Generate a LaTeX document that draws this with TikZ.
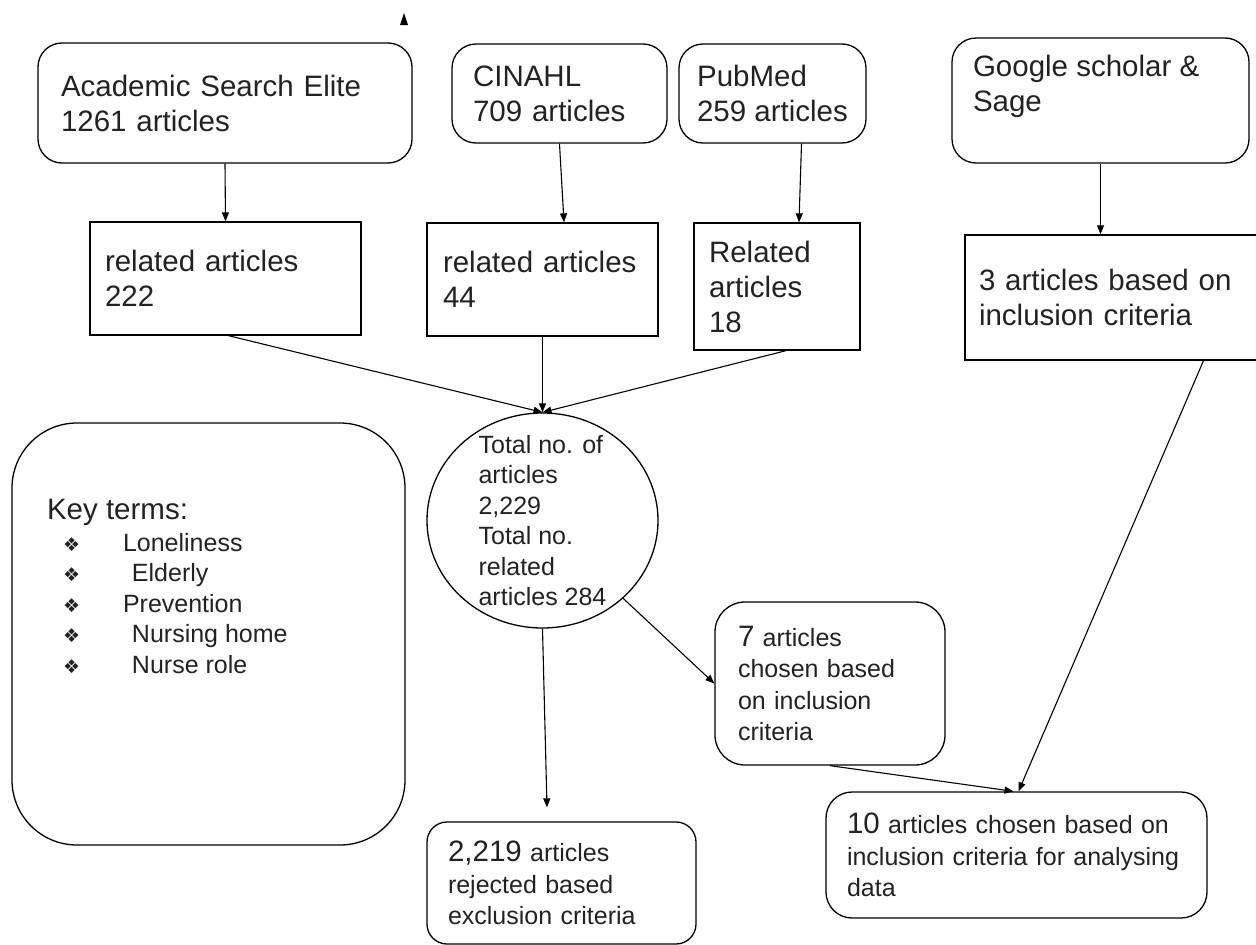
\documentclass[tikz,border=0pt]{standalone}
\usepackage{fontspec}
\setmainfont{Liberation Sans}
\newfontfamily\dejavu{DejaVu Sans}
\usetikzlibrary{arrows.meta,shapes.geometric}
\definecolor{inkgrey}{RGB}{34,34,34}

\begin{document}
\begin{tikzpicture}[x=1pt, y=-1pt,
  src/.style={draw, line width=1.3pt, rounded corners=24pt, align=left,
              inner ysep=0pt, text=inkgrey,
              font=\fontsize{29.5}{35}\selectfont},
  rel/.style={draw, line width=1.3pt, align=left, inner ysep=0pt,
              text=inkgrey, font=\fontsize{29.5}{35}\selectfont},
  res/.style={draw, line width=1.3pt, rounded corners=26pt, align=left,
              inner ysep=0pt, text=inkgrey,
              font=\fontsize{25}{31.5}\selectfont},
  keybox/.style={draw, line width=1.3pt, rounded corners=65pt,
                 inner xsep=35pt, inner ysep=76pt, text=inkgrey,
                 font=\fontsize{25}{30.5}\selectfont},
  totalnode/.style={draw, ellipse, line width=1.3pt, align=left,
                    inner xsep=0pt, inner ysep=-15pt,
                    minimum width=231pt, minimum height=215pt,
                    text=inkgrey, font=\fontsize{25}{30.5}\selectfont},
  arrow/.style={-{Triangle[length=9pt,width=7pt]}, line width=1.1pt},
]
\useasboundingbox (0,0) rectangle (1256,945);

% ---- Databases ----
\node[src, text width=328pt, inner xsep=23pt, minimum height=120pt]
  (ase) at (225,103) {Academic Search Elite\\1261 articles};
\node[src, text width=173pt, inner xsep=21pt, minimum height=99pt]
  (cinahl) at (559.5,93.5) {CINAHL\\709 articles};
\node[src, inner xsep=0pt, minimum width=187pt, minimum height=99pt]
  (pubmed) at (772.5,93.5) {PubMed\\259 articles};
\node[src, inner xsep=21pt, inner ysep=17.5pt]
  (google) at (1100.5,100.5)
  {\parbox[c][90pt][t]{255pt}{Google scholar \&\\Sage}};

% ---- Related articles ----
\node[rel, text width=241pt, inner xsep=15pt, minimum height=113pt]
  (rel222) at (225.5,278.5) {related articles\\222};
\node[rel, text width=199pt, inner xsep=16pt, minimum height=113pt]
  (rel44) at (542.5,279.5) {related articles\\44};
\node[rel, text width=136pt, inner xsep=15pt, minimum height=127pt]
  (rel18) at (777,286.5) {Related\\articles\\18};
\node[rel, text width=269pt, inner xsep=14pt, minimum height=125pt]
  (three) at (1113.5,297.5) {3 articles based on\\inclusion criteria};

% ---- Totals ----
\node[totalnode] (total) at (542.5,520.5)
  {Total no. of\\articles\\2,229\\Total no.\\related\\articles 284};

% ---- Key terms ----
\node[keybox] (keys) at (208.5,634)
  {\parbox[c][270pt][t]{323pt}{%
    {\fontsize{29.5}{30.5}\selectfont Key terms:}\\[1.5pt]
    \makebox[76pt][l]{\hspace*{16pt}{\dejavu\fontsize{19}{19}\selectfont ❖}}Loneliness\\
    \makebox[76pt][l]{\hspace*{16pt}{\dejavu\fontsize{19}{19}\selectfont ❖}}\hspace*{9pt}Elderly\\
    \makebox[76pt][l]{\hspace*{16pt}{\dejavu\fontsize{19}{19}\selectfont ❖}}Prevention\\
    \makebox[76pt][l]{\hspace*{16pt}{\dejavu\fontsize{19}{19}\selectfont ❖}}\hspace*{9pt}Nursing home\\
    \makebox[76pt][l]{\hspace*{16pt}{\dejavu\fontsize{19}{19}\selectfont ❖}}\hspace*{9pt}Nurse role}};

% ---- Outcomes ----
\node[res, text width=184pt, inner xsep=23pt, minimum height=163pt,
      rounded corners=30pt]
  (seven) at (830,683.5)
  {{\fontsize{29.5}{31.5}\selectfont 7} articles\\chosen based\\on inclusion\\criteria};
\node[res, text width=339pt, inner xsep=21pt, minimum height=126pt]
  (ten) at (1016.5,855)
  {{\fontsize{29.5}{31.5}\selectfont 10} articles chosen based on\\inclusion criteria for analysing\\data};
\node[res, text width=227pt, inner xsep=21pt, minimum height=122pt,
      rounded corners=20pt]
  (rej) at (561.5,883)
  {{\fontsize{29.5}{31.5}\selectfont 2,219} articles\\rejected based\\exclusion criteria};

% ---- Connections ----
% databases -> related articles
\draw[arrow] (ase.south) -- (rel222.north);
\draw[arrow] (cinahl.south) -- ([xshift=21.5pt]rel44.north);
\draw[arrow] ([xshift=29pt]pubmed.south) -- ([xshift=22pt]rel18.north);
\draw[arrow] (google.south) -- (google.south |- three.north);

% related articles -> total
\draw[arrow] ([xshift=3pt]rel222.south) -- (total.north);
\draw[arrow] (rel44.south) -- (total.north);
\draw[arrow] ([xshift=9pt]rel18.south) -- (total.north);

% total -> outcomes
\draw[arrow] (total.-44) -- (seven.west);
\draw[arrow] (total.south) -- ([xshift=-14.5pt,yshift=14pt]rej.north);
\draw[arrow] ([xshift=90pt]three.south) -- ([xshift=2pt]ten.north);
\draw[arrow] (seven.south) -- ([xshift=-3pt]ten.north);

% stray arrow head at the top
\coordinate (stray) at (404,13);
\fill (stray) -- ++(-4,12) -- ++(8,0) -- cycle;

\end{tikzpicture}
\end{document}
